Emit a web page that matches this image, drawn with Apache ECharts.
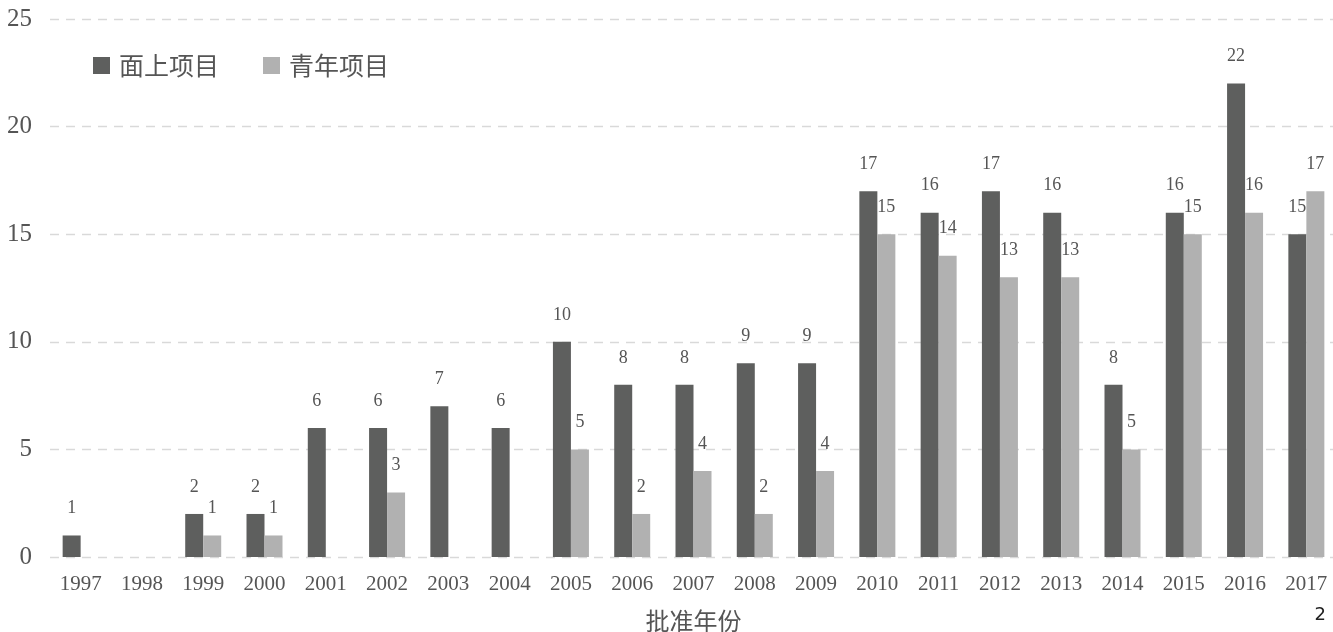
<!DOCTYPE html>
<html>
<head>
<meta charset="utf-8">
<script src="https://cdn.jsdelivr.net/npm/echarts@6/dist/echarts.min.js"></script>
<style>
  html, body { margin: 0; padding: 0; background: #fff; }
  #chart { width: 1333px; height: 632px; }
</style>
</head>
<body>
<div id="chart"></div>
<script>
// Approval years and project counts
const years = ['1997','1998','1999','2000','2001','2002','2003','2004','2005','2006','2007',
               '2008','2009','2010','2011','2012','2013','2014','2015','2016','2017'];
const generalProjects = [1, 0, 2, 2, 6, 6, 7, 6, 10, 8, 8, 9, 9, 17, 16, 17, 16, 8, 16, 22, 15];
const youthProjects   = [0, 0, 1, 1, 0, 3, 0, 0, 5, 2, 4, 2, 4, 15, 14, 13, 13, 5, 15, 16, 17];
const seriesNames = ['面上项目', '青年项目'];
const yTicks = [0, 5, 10, 15, 20, 25];

const numFont = '"Liberation Serif", "DejaVu Serif", serif';
const cjkFont = '"Noto Sans CJK SC", sans-serif';
const textColor = '#555555';

const chart = echarts.init(document.getElementById('chart'), null, { renderer: 'canvas' });

// Hide zero-value labels
const labelFmt = p => (p.value === 0 ? '' : String(p.value));

const makeSeries = (name, data, color) => ({
  name: name,
  type: 'bar',
  data: data,
  barWidth: 18,
  barGap: '0%',
  itemStyle: { color: color },
  label: {
    show: true,
    position: 'top',
    distance: 18,
    formatter: labelFmt,
    fontFamily: numFont,
    fontSize: 18,
    color: textColor
  }
});

chart.setOption({
  animation: false,
  backgroundColor: '#ffffff',
  grid: { left: 50, right: -4, top: 19, bottom: 75, containLabel: false, outerBoundsMode: 'none' },
  legend: {
    left: 93,
    top: 53,
    padding: 0,
    itemWidth: 17,
    itemHeight: 17,
    itemGap: 44,
    icon: 'rect',
    textStyle: { fontFamily: cjkFont, fontSize: 25, color: textColor, padding: [0, 0, 0, 4] },
    data: seriesNames
  },
  xAxis: {
    type: 'category',
    data: years,
    axisLine: { show: false },
    axisTick: { show: false },
    axisLabel: {
      interval: 0,
      margin: 17,
      fontFamily: numFont,
      fontSize: 21,
      color: textColor
    },
    name: '批准年份',
    nameLocation: 'middle',
    nameGap: 52,
    nameTextStyle: { fontFamily: cjkFont, fontSize: 24, color: textColor }
  },
  yAxis: {
    type: 'value',
    min: yTicks[0],
    max: yTicks[yTicks.length - 1],
    interval: 5,
    axisLine: { show: false },
    axisTick: { show: false },
    axisLabel: {
      margin: 18,
      fontFamily: numFont,
      fontSize: 25,
      color: textColor
    },
    splitLine: { lineStyle: { color: '#d9d9d9', type: [9, 7], width: 1.3 } }
  },
  series: [
    makeSeries(seriesNames[0], generalProjects, '#5e5f5e'),
    makeSeries(seriesNames[1], youthProjects, '#b1b1b1')
  ],
  graphic: [{
    type: 'text',
    right: 7,
    top: 606,
    style: { text: '2', fontFamily: '"DejaVu Sans", sans-serif', fontSize: 18, fill: '#222222' }
  }]
});
</script>
</body>
</html>
